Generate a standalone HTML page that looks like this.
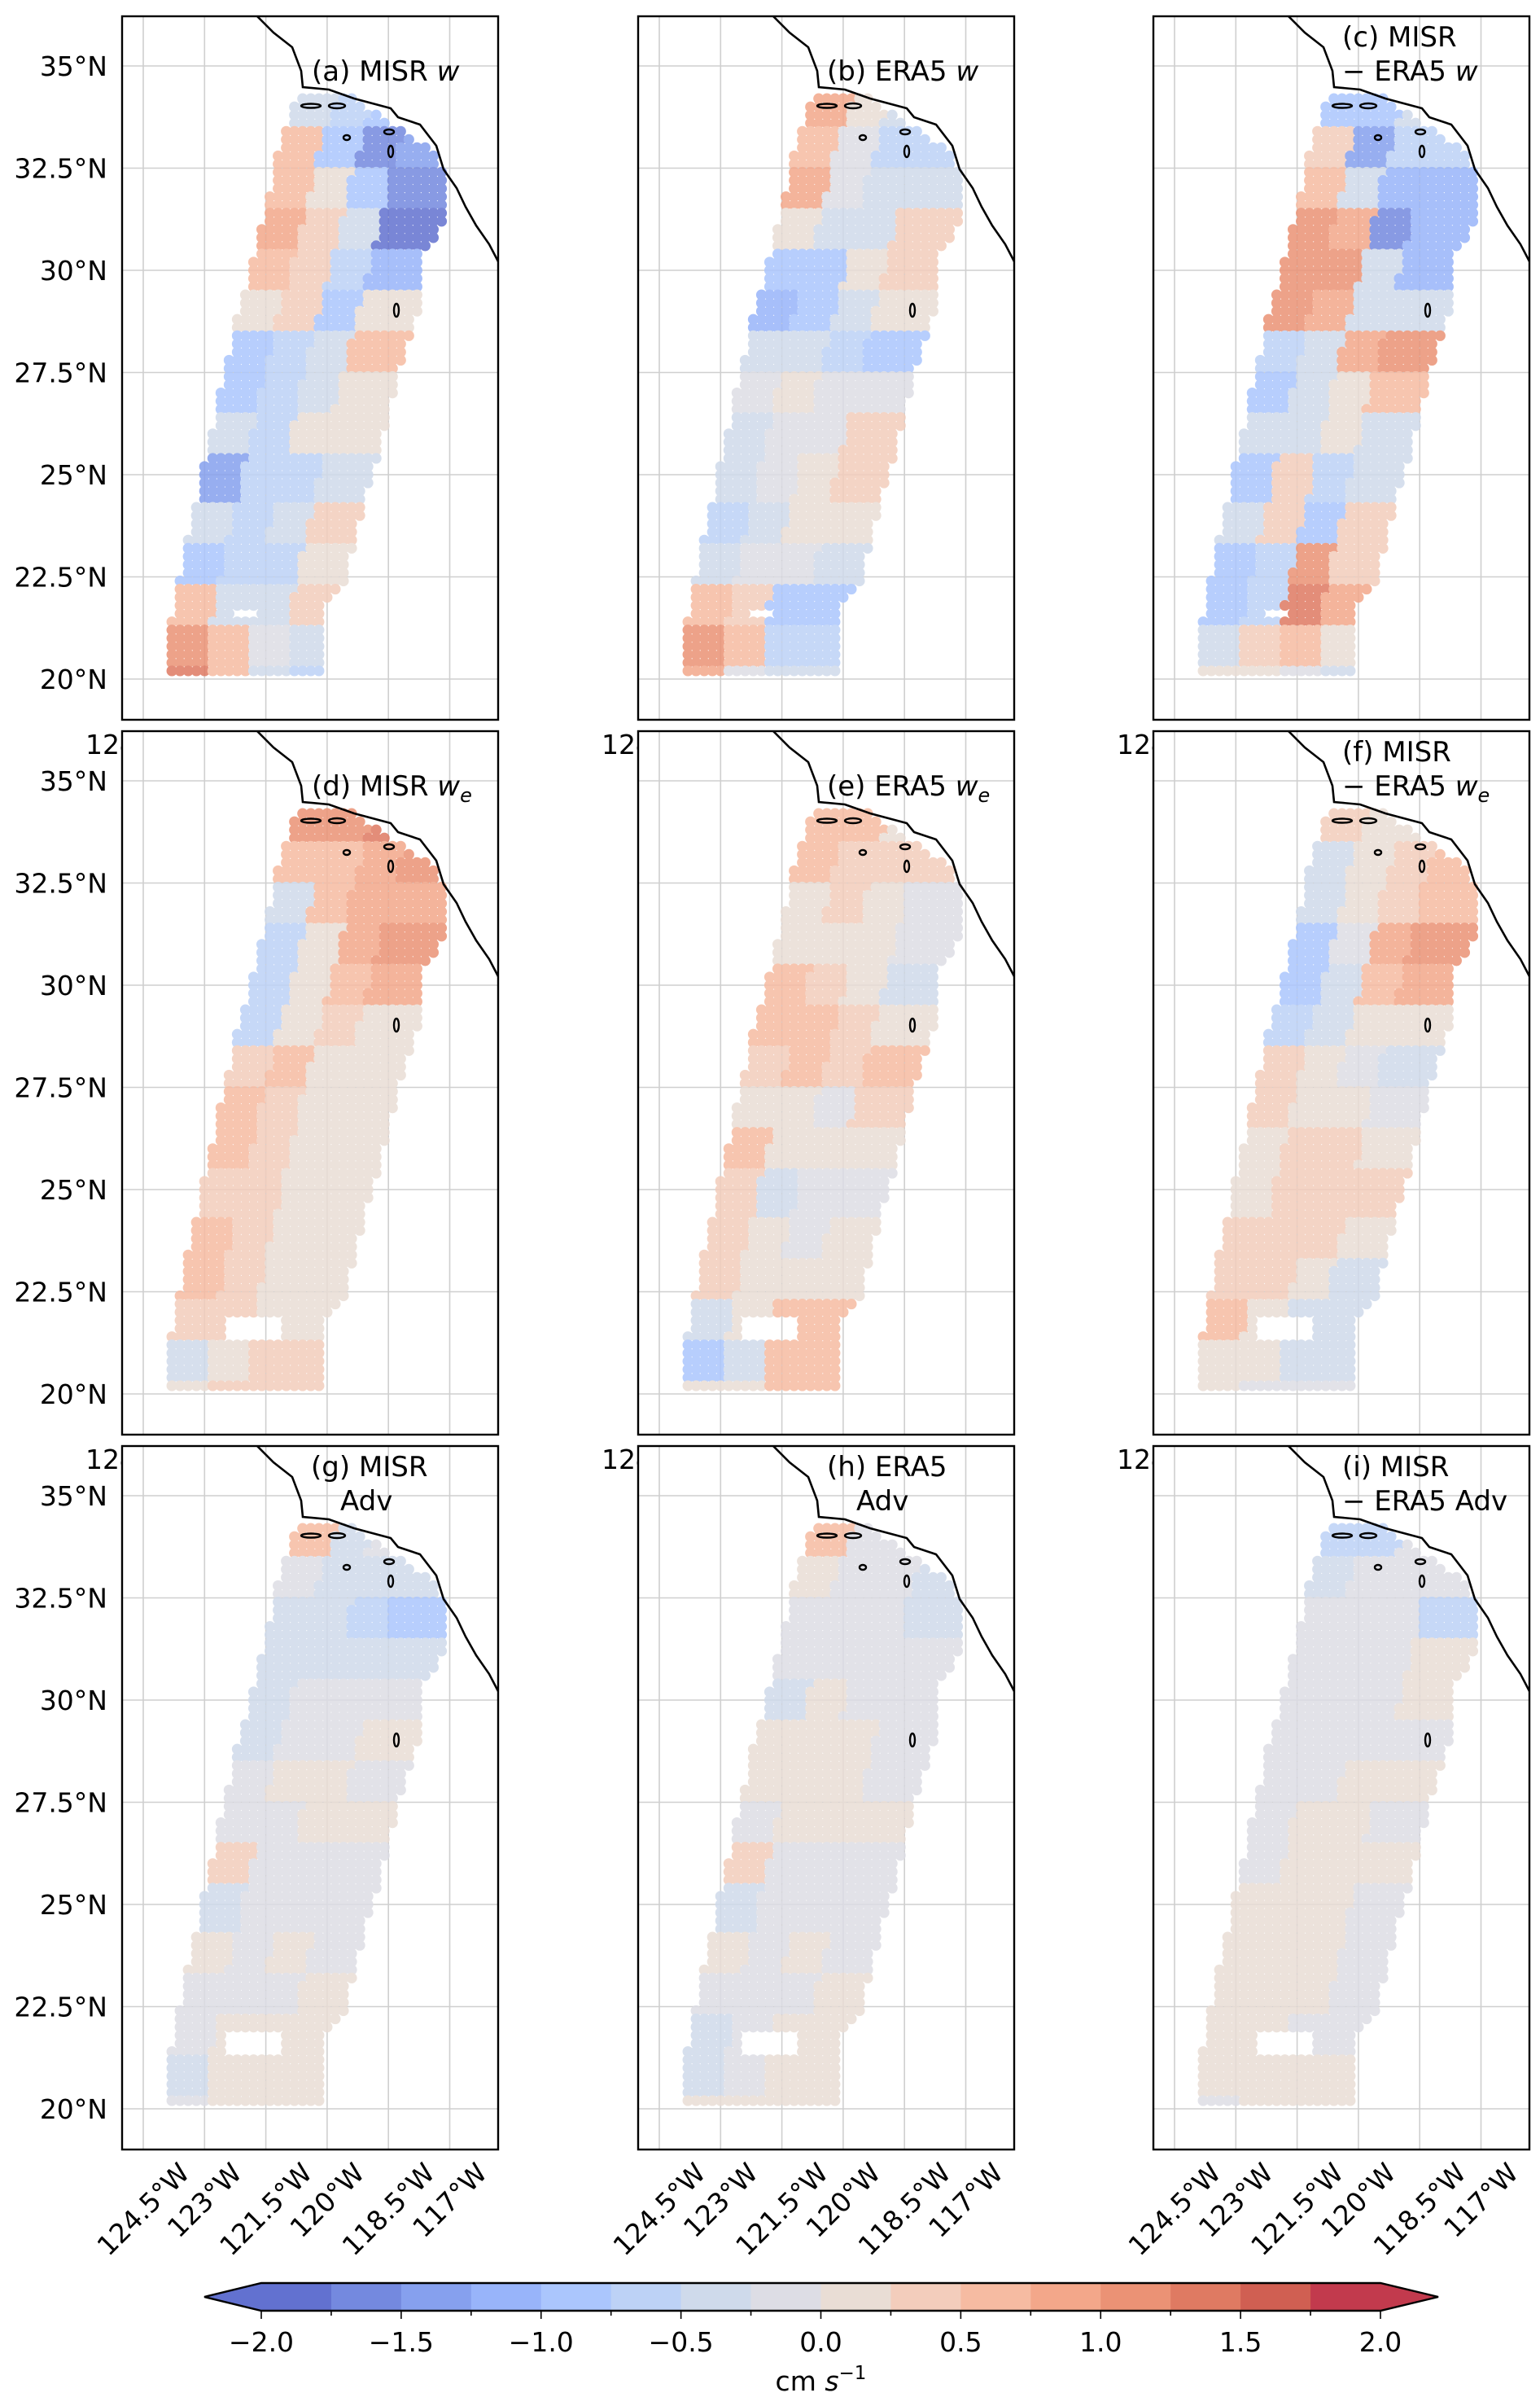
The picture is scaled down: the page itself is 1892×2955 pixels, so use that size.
<!DOCTYPE html>
<html><head><meta charset="utf-8"><style>
html,body{margin:0;padding:0;background:#fff;}
svg{display:block;font-family:"DejaVu Sans","Liberation Sans",sans-serif;}
</style></head><body>
<svg id="fig" width="1892" height="2955" viewBox="0 0 1892 2955" xmlns="http://www.w3.org/2000/svg"></svg>
<script>
// ---- data (values in cm s^-1), rows = 1° latitude bands from 34.4°N southward, cols = cross-track quarter (west->east)
const panelTitles = [["(a) MISR ","w",""],["(b) ERA5 ","w",""],["(c) MISR","− ERA5 ","w"],
  ["(d) MISR ","w","e"],["(e) ERA5 ","w","e"],["(f) MISR","− ERA5 ","we"],
  ["(g) MISR","Adv",""],["(h) ERA5","Adv",""],["(i) MISR","− ERA5 Adv",""]];
const valsA = [[-0.5,-0.7,-1.0,-1.2],[0.5,-1.0,-1.7,-1.5],[0.6,0.0,-0.8,-1.6],[0.8,0.3,-0.5,-1.8],[0.7,0.4,-0.6,-1.2],[0.1,0.3,-0.8,0.2],[-0.8,-0.7,-0.5,0.5],[-1.0,-0.6,-0.3,0.2],[-0.5,-0.7,0.1,0.2],[-1.3,-0.6,-0.6,-0.3],[-0.5,-0.6,-0.4,0.4],[-1.0,-0.7,-0.6,0.2],[0.6,-0.5,-0.3,0.3],[1.2,0.6,-0.2,-0.4],[1.3,0.7,-0.5,-0.6]];
const valsB = [[0.8,0.0,-0.3,-0.5],[0.6,-0.2,-0.6,-0.6],[0.8,-0.2,-0.3,-0.5],[0.1,-0.3,-0.4,0.3],[-0.9,-0.8,0.0,0.4],[-1.2,-0.9,-0.3,0.2],[-0.5,-0.3,-0.6,-0.9],[-0.2,0.0,-0.2,-0.1],[-0.5,-0.2,-0.1,0.4],[-0.4,-0.1,0.1,0.4],[-0.6,-0.3,0.2,0.2],[-0.5,-0.1,-0.1,-0.3],[0.5,0.4,-0.8,-0.9],[1.2,0.5,-0.6,-0.7],[0.8,-0.2,-0.4,-0.4]];
const valsC = [[-1.0,-0.8,-0.3,-0.3],[0.3,-1.5,-0.6,-0.6],[0.5,-0.5,-1.2,-1.2],[1.0,0.8,-1.7,-1.2],[1.2,1.0,-0.5,-1.2],[1.2,0.8,-0.5,-0.5],[-0.7,-0.5,0.9,1.0],[-0.8,-0.3,0.1,0.6],[-0.3,-0.5,0.0,-0.5],[-1.0,0.3,-0.7,-0.5],[-0.5,0.3,-0.8,0.3],[-1.0,-0.7,1.0,0.3],[-1.0,-0.6,1.3,0.8],[-0.5,0.3,0.5,0.2],[0.2,0.1,-0.2,-0.3]];
const valsD = [[1.0,1.0,1.3,1.2],[0.5,0.6,0.8,1.0],[-0.3,0.5,0.8,0.8],[-0.6,0.0,0.8,1.2],[-0.7,0.0,0.5,0.9],[-0.6,0.0,0.3,0.2],[0.3,0.5,0.1,0.0],[0.5,0.3,0.1,0.0],[0.6,0.4,0.1,0.0],[0.4,0.3,0.1,0.1],[0.6,0.4,0.2,0.1],[0.6,0.4,0.2,0.1],[0.3,0.3,0.1,0.1],[-0.5,0.0,0.3,0.3],[0.0,0.3,0.4,0.3]];
const valsE = [[0.7,0.5,0.2,0.2],[0.5,0.4,0.3,0.3],[0.1,0.3,0.2,-0.2],[0.2,0.2,0.1,-0.2],[0.5,0.3,0.2,-0.4],[0.6,0.5,0.3,0.0],[0.3,0.5,0.4,0.5],[0.2,0.1,-0.2,0.4],[0.6,0.2,0.0,0.1],[0.3,-0.3,-0.2,-0.1],[0.4,0.1,-0.1,0.0],[0.4,0.2,0.2,0.1],[-0.3,0.0,0.6,0.6],[-1.0,-0.3,0.5,0.6],[0.0,0.2,0.5,0.5]];
const valsF = [[0.4,0.0,0.2,0.2],[-0.3,0.1,0.3,0.5],[-0.5,0.1,0.4,0.6],[-0.9,-0.2,0.8,1.0],[-1.0,-0.3,0.6,0.8],[-0.6,-0.4,0.0,0.0],[0.3,0.0,-0.2,-0.4],[0.3,0.2,0.0,-0.2],[0.2,0.4,0.3,0.0],[0.2,0.4,0.4,0.3],[0.3,0.4,0.3,0.1],[0.4,0.3,0.0,-0.3],[0.6,0.2,-0.4,-0.5],[0.1,0.0,-0.4,-0.5],[0.0,-0.1,-0.2,-0.2]];
const valsG = [[0.5,-0.3,-0.2,-0.2],[-0.2,-0.3,-0.5,-0.3],[-0.3,-0.3,-0.7,-1.0],[-0.3,-0.3,-0.4,-0.4],[-0.5,-0.2,-0.2,-0.2],[-0.3,-0.2,-0.1,0.0],[-0.1,0.1,0.1,-0.1],[-0.1,-0.1,0.1,0.0],[0.3,-0.1,-0.1,-0.1],[-0.4,-0.2,-0.1,-0.1],[0.0,-0.1,0.1,-0.1],[-0.1,-0.2,-0.1,0.0],[-0.2,0.0,0.1,0.1],[-0.5,0.0,0.1,0.1],[-0.1,0.1,0.0,0.0]];
const valsH = [[0.5,-0.1,-0.2,-0.2],[0.2,-0.1,-0.1,-0.3],[-0.1,-0.1,-0.1,-0.3],[-0.1,-0.1,-0.1,-0.1],[-0.3,0.1,-0.1,-0.1],[0.0,0.1,0.1,-0.1],[0.0,0.1,0.1,-0.1],[-0.1,0.1,0.0,0.1],[0.4,-0.1,-0.1,-0.1],[-0.4,-0.1,-0.1,-0.1],[0.0,-0.1,0.1,-0.1],[-0.2,-0.1,-0.1,0.0],[-0.3,-0.1,0.1,0.1],[-0.3,-0.1,0.0,0.1],[0.1,0.0,0.0,0.0]];
const valsI = [[-0.6,-0.6,-0.1,-0.1],[-0.3,-0.2,-0.1,-0.1],[-0.1,-0.1,-0.2,-0.6],[-0.1,-0.1,-0.1,0.0],[-0.1,-0.1,-0.1,0.1],[-0.1,-0.1,-0.1,-0.1],[-0.1,-0.1,0.0,0.0],[-0.1,0.1,0.1,-0.1],[-0.1,0.1,0.1,0.0],[0.1,0.1,0.1,-0.1],[0.1,0.1,0.0,-0.1],[0.1,0.1,0.0,-0.1],[0.1,0.0,-0.1,-0.1],[0.0,0.1,0.1,0.0],[-0.1,0.1,0.0,0.0]];
const panelVals = [valsA,valsB,valsC,valsD,valsE,valsF,valsG,valsH,valsI];
const latTicks = [35,32.5,30,27.5,25,22.5,20];
const latTickLabels = ["35°N","32.5°N","30°N","27.5°N","25°N","22.5°N","20°N"];
const lonTicks = [124.5,123,121.5,120,118.5,117];
const lonTickLabels = ["124.5°W","123°W","121.5°W","120°W","118.5°W","117°W"];
const cbTicks = [-2,-1.5,-1,-0.5,0,0.5,1,1.5,2];
const cbTickLabels = ["−2.0","−1.5","−1.0","−0.5","0.0","0.5","1.0","1.5","2.0"];
const cmapColors = ["#6271d0","#7489df","#86a0ee","#98b4fa","#abc6fd","#bdd2f6","#cfdaeb","#dddde5","#e9ddd5","#f3cdbc","#f6bba2","#f3a78a","#eb9275","#df7a62","#d05f52","#c23a4d"];

// ---- geometry
const NS="http://www.w3.org/2000/svg";
const svg=document.getElementById('fig');
const colX=[150,784,1417], rowY=[20,898,1776], PW=462, PH=864, PPD=50.2;
function X(p,lon){return p.x+26+(124.5-lon)*PPD;}
function Y(p,lat){return p.y+61+(35-lat)*PPD;}
function el(tag,attrs,parent){const e=document.createElementNS(NS,tag);for(const k in attrs)e.setAttribute(k,attrs[k]);(parent||svg).appendChild(e);return e;}
function colorFor(v){let i=Math.floor((v+2)/0.25);if(i<0)i=0;if(i>15)i=15;return cmapColors[i];}
const leftEdge=[[120.72,34.3],[121.23,32.53],[121.71,30.40],[122.15,28.80],[122.55,27.07],[122.91,25.46],[123.30,23.63],[123.74,21.79],[123.82,20.1]];
const rightEdge=[[119.52,34.3],[118.19,33.39],[117.37,32.83],[117.05,32.01],[117.29,30.98],[117.65,30.40],[117.65,29.48],[118.09,28.23],[118.52,26.73],[118.88,25.24],[119.30,23.75],[119.66,22.35],[120.06,21.79],[120.24,20.1]];
function edgeLon(edge,lat){for(let i=0;i<edge.length-1;i++){const a=edge[i],b=edge[i+1];if(lat<=a[1]&&lat>=b[1]){const t=(a[1]-lat)/(a[1]-b[1]);return a[0]+t*(b[0]-a[0]);}}return null;}
const coast=[[166,0],[186,20],[209,38],[220,67],[222,87],[254,90],[285,101],[330,113],[339,124],[366,133],[386,159],[395,188],[411,211],[422,234],[435,257],[451,280],[463,303]];

for(let pi=0;pi<9;pi++){
  const row=Math.floor(pi/3);
  const p={x:colX[pi%3],y:rowY[row]};
  const g=el('g',{});
  
  
  if(pi>=3){const t=el('text',{x:p.x+18,y:p.y+28,'font-size':33,'text-anchor':'end'},g);t.textContent='124';
    }
  el('rect',{x:p.x,y:p.y,width:PW,height:PH,fill:'#fff'},g);
  const cid='clip'+pi;const cp=el('clipPath',{id:cid},g);el('rect',{x:p.x,y:p.y,width:PW,height:PH},cp);
  const inner=el('g',{'clip-path':'url(#'+cid+')'},g);
  latTicks.forEach(l=>{const ln=el('line',{x1:p.x,x2:p.x+PW,y1:Y(p,l),y2:Y(p,l),stroke:'#cfcfcf','stroke-width':1.6},inner);});
  lonTicks.forEach(l=>{const ln=el('line',{y1:p.y,y2:p.y+PH,x1:X(p,l),x2:X(p,l),stroke:'#cfcfcf','stroke-width':1.6},inner);});
  const vals=panelVals[pi];
  const dg=el('g',{opacity:0.85},inner);
  
  const hole=row===0?[21.45,21.8,121.6,122.35]:[21.35,21.9,121.0,122.45];
  for(let lat=34.2;lat>=20.15;lat-=0.2){
    const L=edgeLon(leftEdge,lat),R=edgeLon(rightEdge,lat);if(L===null||R===null)continue;
    for(let lon=124.0;lon>=116.8;lon-=0.2){
      if(lon>L+0.05||lon<R-0.05)continue;
      if(lat>hole[0]&&lat<hole[1]&&lon>hole[2]&&lon<hole[3])continue;
      let k=Math.floor(34.4-lat);if(k<0)k=0;if(k>14)k=14;
      let c=Math.floor((L-lon)/0.95);if(c<0)c=0;if(c>3)c=3;
      const dot=el('circle',{cx:X(p,lon),cy:Y(p,lat),r:6.6,fill:colorFor(vals[k][c])},dg);
      
      
    }
  }
  const cl=el('polyline',{points:coast.map(q=>(p.x+q[0])+','+(p.y+q[1])).join(' '),fill:'none',stroke:'#000','stroke-width':2.6},inner);
  
  [[232,110,12,2.5],[264,110,10,3],[276,149,4,3],[328,142,6,3],[330,166,3,7],[337,361,3,8]].forEach(s=>{
    const e=el('ellipse',{cx:p.x+s[0],cy:p.y+s[1],rx:s[2],ry:s[3],fill:'none',stroke:'#000','stroke-width':2.4},inner);
    });
  const fr=el('rect',{x:p.x,y:p.y,width:PW,height:PH,fill:'none',stroke:'#000','stroke-width':2.4},g);
  
  const tt=panelTitles[pi];
  const col=pi%3;
  const tg=el('g',{'font-size':34},g);
  if(pi<2||pi===3||pi===4){
    const t=el('text',{x:p.x+(col===0?233:232),y:p.y+79},tg);
    t.appendChild(document.createTextNode(tt[0]));
    const it=el('tspan',{'font-style':'italic'},t);it.textContent=tt[1];
    if(tt[2]){const s=el('tspan',{'font-style':'italic','font-size':24,dy:8},t);s.textContent=tt[2];}
  } else if(pi===2||pi===5){
    const t1=el('text',{x:p.x+232,y:p.y+37},tg);t1.textContent=tt[0];
    const t2=el('text',{x:p.x+232,y:p.y+79},tg);t2.appendChild(document.createTextNode(tt[1]));
    const it=el('tspan',{'font-style':'italic'},t2);it.textContent='w';
    if(pi===5){const s=el('tspan',{'font-style':'italic','font-size':24,dy:8},t2);s.textContent='e';}
  } else {
    const t1=el('text',{x:p.x+232,y:p.y+37},tg);t1.textContent=tt[0];
    const t2=el('text',{x:p.x+(pi===8?232:268),y:p.y+79},tg);t2.textContent=tt[1];
  }
  if(col===0){latTicks.forEach((l,i)=>{const t=el('text',{x:p.x-18,y:Y(p,l)+12,'font-size':33,'text-anchor':'end'});t.textContent=latTickLabels[i];
    });}
  if(pi>=6){lonTicks.forEach((l,i)=>{const tx=X(p,l);const t=el('text',{x:tx,y:0,'font-size':33,'text-anchor':'middle','dominant-baseline':'central'});
    t.textContent=lonTickLabels[i];
    
    const w=t.getComputedTextLength();const cy=2652+(w+30)/1.414/2;
    t.setAttribute('y',cy);t.setAttribute('transform','rotate(-45 '+tx+' '+cy+')');});}
}
const cb=el('g',{});
const cbX0=321,cbX1=1696,cbY0=2804,cbY1=2838;
function CB(v){return cbX0+(v+2)/4*(cbX1-cbX0);}
for(let i=0;i<16;i++){const v=-2+i*0.25;const r=el('rect',{x:CB(v),y:cbY0,width:CB(v+0.25)-CB(v)+0.6,height:cbY1-cbY0,fill:cmapColors[i]},cb);
  }
const lt=el('polygon',{points:`${cbX0},${cbY0} 251,${(cbY0+cbY1)/2} ${cbX0},${cbY1}`,fill:cmapColors[0]},cb);
const rt=el('polygon',{points:`${cbX1},${cbY0} 1767,${(cbY0+cbY1)/2} ${cbX1},${cbY1}`,fill:cmapColors[15]},cb);
el('polygon',{points:`${cbX0},${cbY0} ${cbX1},${cbY0} 1767,${(cbY0+cbY1)/2} ${cbX1},${cbY1} ${cbX0},${cbY1} 251,${(cbY0+cbY1)/2}`,fill:'none',stroke:'#000','stroke-width':2.4},cb);
for(let i=0;i<=16;i++){const v=-2+i*0.25;const major=i%2===0;el('line',{x1:CB(v),x2:CB(v),y1:cbY1,y2:cbY1+(major?10:6),stroke:'#000','stroke-width':1.6},cb);}
cbTicks.forEach((v,i)=>{const t=el('text',{x:CB(v),y:2888,'font-size':33,'text-anchor':'middle'},cb);t.textContent=cbTickLabels[i];
  });
const cl=el('text',{x:CB(0),y:2936,'font-size':33,'text-anchor':'middle'},cb);

cl.appendChild(document.createTextNode('cm '));const si=el('tspan',{'font-style':'italic'},cl);si.textContent='s';
const sup=el('tspan',{'font-size':23,dy:-14},cl);sup.textContent='−1';
</script>
</body></html>
